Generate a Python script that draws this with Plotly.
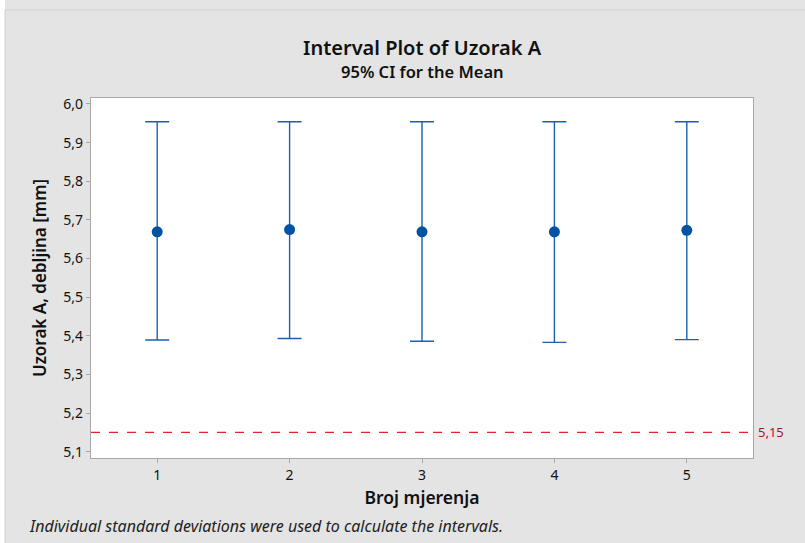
import plotly.graph_objects as go

mjerenja = [1, 2, 3, 4, 5]
srednja = [5.669, 5.675, 5.669, 5.669, 5.673]
gornja = [5.954, 5.954, 5.954, 5.954, 5.954]
donja = [5.389, 5.393, 5.386, 5.383, 5.390]
granica = 5.15

plus = [g - s for g, s in zip(gornja, srednja)]
minus = [s - d for s, d in zip(srednja, donja)]

font = "Noto Sans, Open Sans, sans-serif"

fig = go.Figure()
fig.add_trace(go.Scatter(
    x=mjerenja, y=srednja, mode="markers",
    marker=dict(size=11, color="#0353A4"),
    error_y=dict(type="data", symmetric=False, array=plus, arrayminus=minus,
                 color="#1C5FAD", thickness=1.4, width=12),
    showlegend=False,
))

fig.add_hline(y=granica, line=dict(color="#E0252B", width=1.2, dash="dash"))

# plot area: x 91..753, y 98..458 px
fig.update_layout(
    width=805, height=543,
    margin=dict(l=91, r=52, t=98, b=85),
    paper_bgcolor="#E4E4E4", plot_bgcolor="white",
    separators=",.",
    font=dict(family=font, color="#222222"),
    shapes=[
        # white strips at top and left of the grey panel
        dict(type="rect", xref="paper", yref="paper", x0=-0.2, x1=1.2, y0=(458 - 10) / 360, y1=1.3,
             fillcolor="white", line=dict(width=0), layer="above"),
        dict(type="rect", xref="paper", yref="paper", x0=-0.2, x1=(5 - 91) / 662, y0=-0.3, y1=1.3,
             fillcolor="white", line=dict(width=0), layer="above"),
        dict(type="line", xref="paper", yref="paper", x0=(5 - 91) / 662, x1=1.2,
             y0=(458 - 10) / 360, y1=(458 - 10) / 360, line=dict(color="#CFCFCF", width=1), layer="above"),
        dict(type="line", xref="paper", yref="paper", x0=(5 - 91) / 662, x1=(5 - 91) / 662,
             y0=-0.3, y1=(458 - 10) / 360, line=dict(color="#CFCFCF", width=1), layer="above"),
    ],
    annotations=[
        dict(text="Interval Plot of Uzorak A", xref="paper", yref="paper", x=0.5, y=(458 - 47) / 360,
             showarrow=False, font=dict(size=20, weight=600, color="#111111"),
             xanchor="center", yanchor="middle"),
        dict(text="95% CI for the Mean", xref="paper", yref="paper", x=0.5, y=(458 - 71) / 360,
             showarrow=False, font=dict(size=16.5, weight=600, color="#111111"),
             xanchor="center", yanchor="middle"),
        dict(text="5,15", xref="paper", yref="y", x=1, y=granica, xshift=3, showarrow=False,
             xanchor="left", yanchor="middle", font=dict(size=13, color="#A3182B")),
        dict(text="<i>Individual standard deviations were used to calculate the intervals.</i>",
             xref="paper", yref="paper", x=(27 - 91) / 662, y=(458 - 526) / 360, showarrow=False,
             xanchor="left", yanchor="middle", font=dict(size=16, color="#222222")),
    ],
)

fig.update_xaxes(
    range=[0.5, 5.5], tickvals=mjerenja, showgrid=False, zeroline=False,
    showline=True, mirror=True, linecolor="#A8A8A8", linewidth=1.2,
    ticks="outside", ticklen=4, tickcolor="#A8A8A8", tickfont=dict(size=14, color="#111111"),
    title=dict(text="Broj mjerenja", font=dict(size=17.5, weight=600, color="#111111"), standoff=8),
)
fig.update_yaxes(
    range=[5.0837, 6.0155], tickvals=[5.1, 5.2, 5.3, 5.4, 5.5, 5.6, 5.7, 5.8, 5.9, 6.0],
    tickformat=".1f", showgrid=False, zeroline=False,
    showline=True, mirror=True, linecolor="#A8A8A8", linewidth=1.2,
    ticks="outside", ticklen=4, tickcolor="#A8A8A8", tickfont=dict(size=14, color="#111111"),
    title=dict(text="Uzorak A, debljina [mm]", font=dict(size=17, weight=600, color="#111111"), standoff=12),
)

fig.write_html("out.html", config={"displayModeBar": False},
               post_script="document.body.style.margin='0';")
